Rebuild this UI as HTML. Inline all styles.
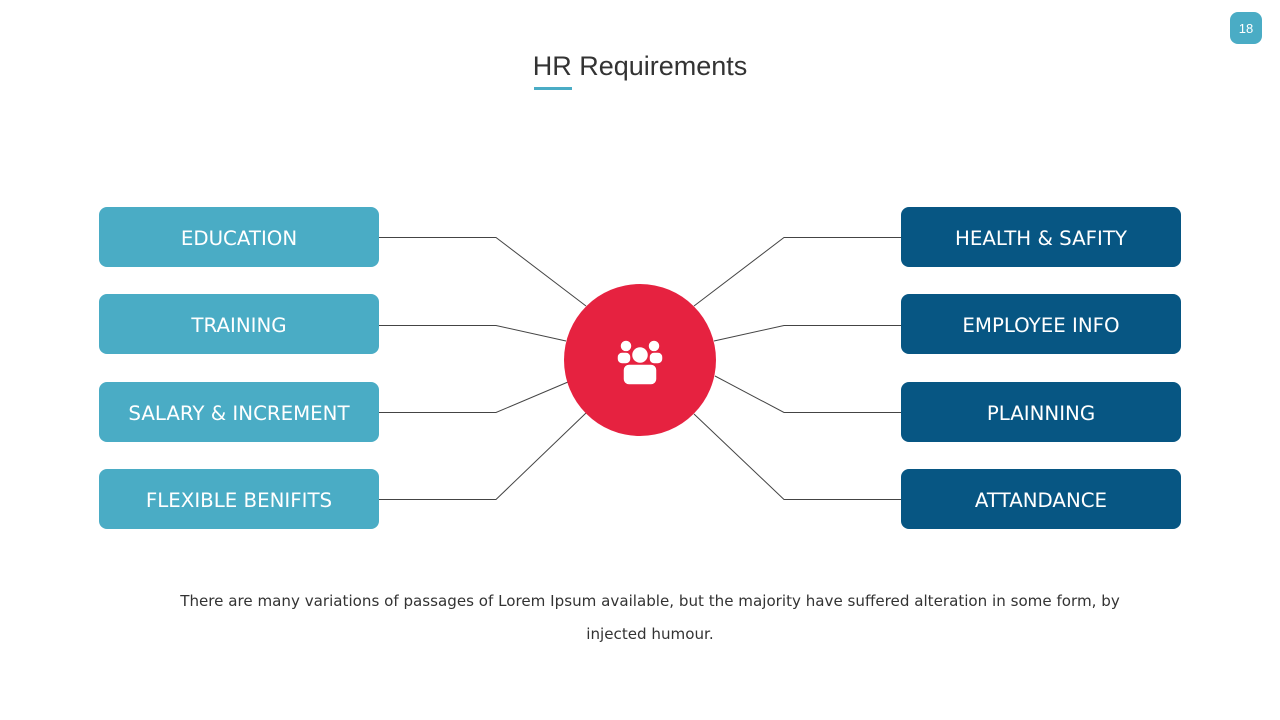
<!DOCTYPE html>
<html><head><meta charset="utf-8"><style>
body{margin:0;width:1280px;height:720px;background:#fff;position:relative;overflow:hidden;font-family:"Liberation Sans",sans-serif}
.b{position:absolute;width:280px;height:60px;border-radius:8px;color:#fff;display:flex;align-items:center;justify-content:center;font-family:"DejaVu Sans","Liberation Sans",sans-serif;font-size:19.8px;padding-top:2px;box-sizing:border-box}
.l{left:99px;background:#4aacc5}
.r{left:901px;background:#075683}
</style></head><body>
<div style="position:absolute;left:1230px;top:12px;width:32px;height:32px;border-radius:8px;background:#4aacc5;color:#fff;font-size:13px;display:flex;align-items:center;justify-content:center">18</div>
<div style="position:absolute;left:0;width:1280px;top:51px;text-align:center;font-size:27px;color:#333">HR Requirements</div>
<div style="position:absolute;left:534px;top:87px;width:38px;height:3px;background:#4aacc5"></div>
<svg width="1280" height="720" style="position:absolute;left:0;top:0">
<g fill="none" stroke="#444" stroke-width="1">
<polyline points="379,237.5 496,237.5 586,306"/>
<polyline points="379,325.5 496,325.5 566,341"/>
<polyline points="379,412.5 496,412.5 568,382"/>
<polyline points="379,499.5 496,499.5 586,413"/>
<polyline points="901,237.5 784,237.5 694,306"/>
<polyline points="901,325.5 784,325.5 714,341"/>
<polyline points="901,412.5 784,412.5 715,376"/>
<polyline points="901,499.5 784,499.5 694,414"/>
</g>
<circle cx="640" cy="360" r="76" fill="#e62240"/>
<g fill="#fff" stroke="#e62240" stroke-width="1.5">
<circle cx="626" cy="346" r="6"/><circle cx="654" cy="346" r="6"/>
<rect x="617" y="352" width="14" height="12" rx="5"/><rect x="649" y="352" width="14" height="12" rx="5"/>
<circle cx="640" cy="355" r="8.5"/>
<rect x="623" y="364" width="34" height="21" rx="6"/>
</g>
</svg>
<div class="b l" style="top:207px">EDUCATION</div>
<div class="b l" style="top:294px">TRAINING</div>
<div class="b l" style="top:382px">SALARY &amp; INCREMENT</div>
<div class="b l" style="top:469px">FLEXIBLE BENIFITS</div>
<div class="b r" style="top:207px">HEALTH &amp; SAFITY</div>
<div class="b r" style="top:294px">EMPLOYEE INFO</div>
<div class="b r" style="top:382px">PLAINNING</div>
<div class="b r" style="top:469px">ATTANDANCE</div>
<div style="position:absolute;left:100px;width:1100px;top:585px;text-align:center;font-family:'DejaVu Sans','Liberation Sans',sans-serif;font-size:15.1px;line-height:33px;color:#333">There are many variations of passages of Lorem Ipsum available, but the majority have suffered alteration in some form, by<br>injected humour.</div>
</body></html>
